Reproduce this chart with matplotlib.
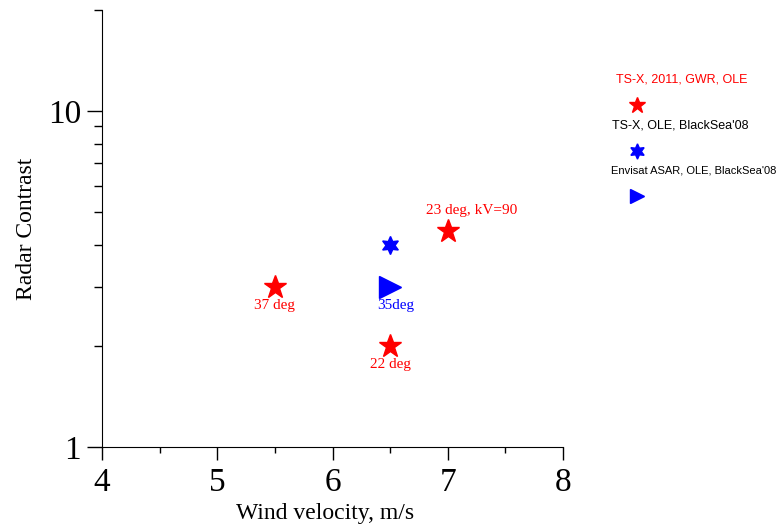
import matplotlib.pyplot as plt

plt.rcParams['font.family'] = ['Liberation Serif', 'DejaVu Serif']

# TS-X 2011 GWR OLE (red stars)
tsx_wind = [5.5, 6.5, 7.0]
tsx_contrast = [3.0, 2.0, 4.4]
tsx_labels = ["37 deg", "22 deg", "23 deg, kV=90"]

# TS-X OLE BlackSea'08 (blue hexagram)
tsx08_wind = [6.5]
tsx08_contrast = [4.0]

# Envisat ASAR OLE BlackSea'08 (blue triangle)
asar_wind = [6.5]
asar_contrast = [3.0]
asar_labels = ["35deg"]

legend_labels = ["TS-X, 2011, GWR, OLE", "TS-X, OLE, BlackSea'08",
                 "Envisat ASAR, OLE, BlackSea'08"]
legend_colors = ["red", "black", "black"]

hexagram = (6, 1, 0)

fig = plt.figure(figsize=(7.78, 5.27), dpi=100)
ax = fig.add_axes([0.1311, 0.1518, 0.5926, 0.8292])

ax.plot(tsx_wind, tsx_contrast, linestyle='none', marker='*', color='red', ms=17)
ax.plot(tsx08_wind, tsx08_contrast, linestyle='none', marker=hexagram, color='blue', ms=13)
ax.plot(asar_wind, asar_contrast, linestyle='none', marker='>', color='blue', ms=16)

# point annotations
offsets = [(0, -9, 'top'), (0, -9, 'top'), (17, 10, 'bottom')]
for x, y, t, (dx, dy, va) in zip(tsx_wind, tsx_contrast, tsx_labels, offsets):
    ax.annotate(t, (x, y), xytext=(dx, dy), textcoords='offset points',
                ha='center', va=va, color='red', fontsize=11)
for x, y, t in zip(asar_wind, asar_contrast, asar_labels):
    ax.annotate(t, (x, y), xytext=(4, -9), textcoords='offset points',
                ha='center', va='top', color='blue', fontsize=11)

ax.set_yscale('log')
ax.set_xlim(4, 8)
ax.set_ylim(1, 20)
ax.set_xticks([4, 5, 6, 7, 8])
ax.set_xticks([4.5, 5.5, 6.5, 7.5], minor=True)
ax.set_yticks([1, 10])
ax.set_yticklabels(["1", "10"])
ax.yaxis.set_minor_formatter(plt.NullFormatter())
ax.tick_params(axis='y', which='major', direction='out', length=11, width=1, labelsize=24, pad=4)
ax.tick_params(axis='x', which='major', direction='out', length=9, width=1, labelsize=24, pad=6)
ax.tick_params(axis='y', which='minor', direction='out', length=6, width=1)
ax.tick_params(axis='x', which='minor', direction='out', length=4, width=1)
ax.spines['top'].set_visible(False)
ax.spines['right'].set_visible(False)
ax.set_xlabel("Wind velocity, m/s", fontsize=17)
ax.xaxis.set_label_coords(0.484, -0.128)
ax.set_ylabel("Radar Contrast", fontsize=17, labelpad=8)

# legend on the right: label above each marker
lax = fig.add_axes([600 / 778, 0.5417, 178 / 778, 0.3454])
lax.set_xlim(0, 1)
lax.set_ylim(3, -1)
lax.axis('off')
leg_markers = [('*', 'red', 12), (hexagram, 'blue', 11), ('>', 'blue', 10)]
text_x = [0.09, 0.067, 0.99]
text_ha = ['left', 'left', 'right']
text_size = [9, 9, 8]
for i, (lab, col, (m, mc, ms)) in enumerate(zip(legend_labels, legend_colors, leg_markers)):
    lax.plot([0.208], [i], marker=m, color=mc, ms=ms, linestyle='none')
    lax.text(text_x[i], i - 0.55, lab, ha=text_ha[i], va='center', clip_on=False,
             color=col, fontsize=text_size[i], family=['Liberation Sans', 'DejaVu Sans'])

fig.savefig("out.png", dpi=100)
